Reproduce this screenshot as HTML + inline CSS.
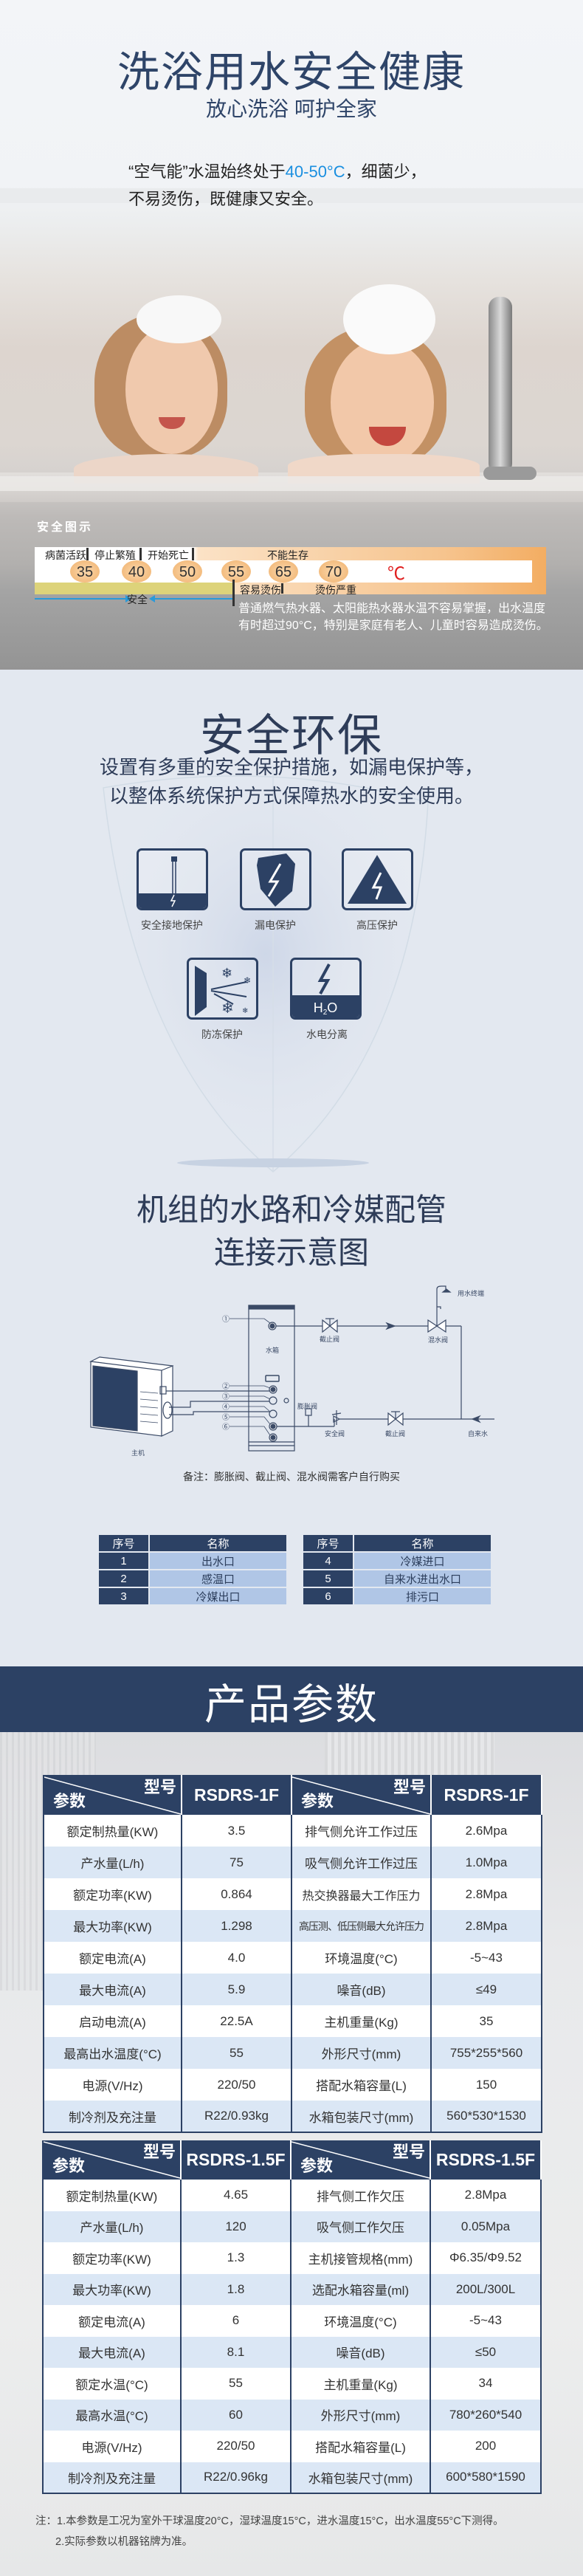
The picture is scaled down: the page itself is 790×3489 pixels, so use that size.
<!DOCTYPE html>
<html><head><meta charset="utf-8">
<style>
*{margin:0;padding:0;box-sizing:border-box}
body{width:790px;height:3489px;overflow:hidden;position:relative;font-family:"Liberation Sans","Noto Sans CJK SC",sans-serif;background:#e4e8ef}
.a{position:absolute}
.c{text-align:center;left:0;width:790px}
.num{position:absolute;top:759px;width:40px;height:30px;margin-left:-20px;border-radius:50%;background:radial-gradient(ellipse at center,#fbd9ae 0%,#f2b878 80%,rgba(242,184,120,0) 100%);font-size:20px;color:#333;text-align:center;line-height:32px}
.lbl{position:absolute;font-size:14px;color:#222}
.dv{position:absolute;width:3px;background:#333}
.ico{position:absolute;width:97px;height:84px;border:3px solid #2c4164;border-radius:7px;overflow:hidden;background:rgba(255,255,255,.15)}
.il{position:absolute;font-size:14px;color:#444;text-align:center;width:140px}
table{border-collapse:collapse;position:absolute;table-layout:fixed}
.nt td{height:24px;text-align:center;font-size:15px;border:2px solid #e3e8f0}
.nt .h{background:#2c4164;color:#fff}
.nt .l{background:#b0c6e6;color:#2c3e5c}
.pt td{text-align:center;font-size:17px;color:#333;border-left:2px solid #2c4164;border-right:2px solid #2c4164;white-space:nowrap;overflow:hidden}
.pt tr.hd td{background:#2c4164;color:#fff;font-weight:bold;font-size:23px;border-color:#fff #fff #fff #2c4164;padding:0}
.pt tr:nth-child(even) td{background:#fff}
.pt tr:nth-child(odd):not(.hd) td{background:#dbe7f5}
.pt{border-bottom:2px solid #2c4164}
.dg{position:relative;height:53px;width:100%}
.dg svg{position:absolute;left:0;top:0}
.dg .t1{position:absolute;right:6px;top:3px;font-size:22px;line-height:26px}
.dg .t2{position:absolute;left:12px;top:22px;font-size:22px;line-height:26px}
</style></head><body>

<!-- SECTION 1 -->
<div class="a" style="left:0;top:0;width:790px;height:907px;background:linear-gradient(#f3f5f8 0,#f1f3f6 250px,#eceeef 300px,#e6e2de 380px,#ddd5cf 470px,#dcd6d1 600px,#d6d2cf 640px,#bdbab8 700px,#b2b0ae 763px,#a4a4a4 800px,#949494 907px)"></div>
<div class="a" style="left:0;top:255px;width:790px;height:20px;background:#e9ebed"></div>
<div class="a" style="left:0;top:640px;width:790px;height:40px;background:linear-gradient(#e2dfdc,#cfcbc8)"></div>
<!-- kid 1 -->
<div class="a" style="left:128px;top:425px;width:180px;height:195px;border-radius:48% 48% 40% 40%;background:#b88457;opacity:.9"></div>
<div class="a" style="left:170px;top:440px;width:125px;height:175px;border-radius:50%;background:#f0c9ad"></div>
<div class="a" style="left:185px;top:400px;width:115px;height:65px;border-radius:50%;background:#f8f8f8"></div>
<div class="a" style="left:215px;top:565px;width:36px;height:16px;border-radius:0 0 18px 18px;background:#c4554c"></div>
<div class="a" style="left:100px;top:615px;width:250px;height:40px;border-radius:50% 50% 0 0;background:#ecd6c8"></div>
<!-- kid 2 -->
<div class="a" style="left:413px;top:442px;width:192px;height:190px;border-radius:48% 48% 40% 40%;background:#c08a58;opacity:.9"></div>
<div class="a" style="left:448px;top:460px;width:140px;height:170px;border-radius:50%;background:#f2c8a9"></div>
<div class="a" style="left:465px;top:385px;width:125px;height:95px;border-radius:50%;background:#fafafa"></div>
<div class="a" style="left:500px;top:578px;width:50px;height:26px;border-radius:0 0 25px 25px;background:#c4483f"></div>
<div class="a" style="left:390px;top:615px;width:260px;height:40px;border-radius:40% 40% 0 0;background:#f0d8c8"></div>
<div class="a" style="left:0;top:645px;width:790px;height:20px;background:rgba(236,234,232,.85)"></div>
<!-- faucet -->
<div class="a" style="left:662px;top:402px;width:32px;height:240px;border-radius:14px;background:linear-gradient(90deg,#8a8a8a,#d8d8d8,#7a7a7a)"></div>
<div class="a" style="left:655px;top:632px;width:72px;height:18px;border-radius:9px;background:#9a9a9a"></div>

<div class="a c" style="top:52px;font-size:57px;color:#2e4468;letter-spacing:2px">洗浴用水安全健康</div>
<div class="a c" style="top:126px;font-size:28px;color:#2e4468">放心洗浴 呵护全家</div>
<div class="a" style="left:174px;top:214px;font-size:22px;color:#222;line-height:37px;white-space:nowrap">“空气能”水温始终处于<span style="color:#1a8fe0">40-50°C</span>，细菌少，<br>不易烫伤，既健康又安全。</div>

<!-- safety chart -->
<div class="a" style="left:50px;top:700px;font-size:16px;font-weight:bold;color:#fff;letter-spacing:3px">安全图示</div>
<div class="a" style="left:47px;top:741px;width:693px;height:64px;background:linear-gradient(90deg,#fff 0,#fff 31%,#fbe2c6 32%,#f6c48e 80%,#f3ad62 100%)"></div>
<div class="a" style="left:47px;top:759px;width:674px;height:30px;background:#fff"></div>
<div class="a" style="left:47px;top:789px;width:268px;height:16px;background:#ddd37a"></div>
<div class="lbl" style="left:61px;top:742px">病菌活跃</div>
<div class="dv" style="left:117px;top:742px;height:17px"></div>
<div class="lbl" style="left:128px;top:742px">停止繁殖</div>
<div class="dv" style="left:189px;top:742px;height:17px"></div>
<div class="lbl" style="left:200px;top:742px">开始死亡</div>
<div class="dv" style="left:260px;top:742px;height:17px"></div>
<div class="lbl" style="left:362px;top:742px">不能生存</div>
<div class="num" style="left:115px">35</div>
<div class="num" style="left:185px">40</div>
<div class="num" style="left:254px">50</div>
<div class="num" style="left:320px">55</div>
<div class="num" style="left:384px">65</div>
<div class="num" style="left:452px">70</div>
<div class="a" style="left:525px;top:757px;font-size:24px;color:#e02020">℃</div>
<div class="lbl" style="left:325px;top:789px">容易烫伤</div>
<div class="dv" style="left:381px;top:790px;height:14px"></div>
<div class="lbl" style="left:427px;top:789px">烫伤严重</div>
<div class="dv" style="left:315px;top:785px;height:36px"></div>
<div class="a" style="left:47px;top:810px;width:130px;height:2px;background:#2a9ad8"></div>
<div class="a" style="left:170px;top:806px;width:0;height:0;border:5px solid transparent;border-left:8px solid #2a9ad8"></div>
<div class="a" style="left:205px;top:810px;width:110px;height:2px;background:#2a9ad8"></div>
<div class="a" style="left:197px;top:806px;width:0;height:0;border:5px solid transparent;border-right:8px solid #2a9ad8"></div>
<div class="lbl" style="left:172px;top:802px">安全</div>
<div class="a" style="left:323px;top:813px;font-size:16px;color:#fff;line-height:23px;white-space:nowrap">普通燃气热水器、太阳能热水器水温不容易掌握，出水温度<br>有时超过90°C，特别是家庭有老人、儿童时容易造成烫伤。</div>

<!-- SECTION 2 -->
<div class="a" style="left:0;top:907px;width:790px;height:1350px;background:#e3e8f0"></div>
<svg class="a" style="left:0;top:907px" width="790" height="700">
<defs><radialGradient id="g1" cx="50%" cy="45%" r="55%"><stop offset="0" stop-color="#c9d3e6" stop-opacity=".8"/><stop offset="1" stop-color="#e3e8f0" stop-opacity="0"/></radialGradient></defs>
<path d="M140,160 Q370,120 580,180 Q560,520 370,680 Q180,520 140,160Z" fill="url(#g1)" stroke="#d2dce6" stroke-width="1.5"/>
<line x1="370" y1="130" x2="370" y2="680" stroke="#d6dee8" stroke-width="1.5"/>
<ellipse cx="370" cy="668" rx="130" ry="6" fill="#c7d2e2"/>
</svg>
<div class="a c" style="top:948px;font-size:60px;color:#2e3c58;letter-spacing:2px">安全环保</div>
<div class="a c" style="top:1020px;font-size:26px;color:#2e3c58;line-height:39px">设置有多重的安全保护措施，如漏电保护等，<br>以整体系统保护方式保障热水的安全使用。</div>

<div class="ico" style="left:185px;top:1149px">
<svg width="91" height="78"><rect x="44" y="8" width="8" height="7" fill="#2c4164"/><line x1="46" y1="15" x2="46" y2="58" stroke="#2c4164" stroke-width="1.5"/><line x1="50" y1="15" x2="50" y2="58" stroke="#2c4164" stroke-width="1.5"/><rect x="0" y="58" width="91" height="20" fill="#2c4164"/><path d="M48,60 l-4,8 h5 l-4,8" stroke="#fff" fill="none" stroke-width="1.5"/></svg></div>
<div class="ico" style="left:325px;top:1149px">
<svg width="91" height="78"><path d="M22,10 L60,4 L72,18 L68,55 L45,76 L25,52 L20,20Z" fill="#2c4164"/><path d="M52,18 L38,42 L48,42 L36,62" stroke="#fff" stroke-width="3" fill="none"/></svg></div>
<div class="ico" style="left:463px;top:1149px">
<svg width="91" height="78"><path d="M45,6 L85,72 L5,72Z" fill="#2c4164"/><path d="M50,30 L40,50 L50,50 L44,66" stroke="#fff" stroke-width="3" fill="none"/></svg></div>
<div class="il" style="left:163px;top:1243px">安全接地保护</div>
<div class="il" style="left:303px;top:1243px">漏电保护</div>
<div class="il" style="left:441px;top:1243px">高压保护</div>
<div class="ico" style="left:253px;top:1297px">
<svg width="91" height="78"><path d="M8,8 L24,18 L24,64 L8,76Z" fill="#2c4164"/><g stroke="#2c4164" stroke-width="2"><line x1="30" y1="40" x2="78" y2="30"/><line x1="30" y1="42" x2="78" y2="50"/><line x1="34" y1="46" x2="60" y2="60"/></g><text x="44" y="24" font-size="18" fill="#2c4164">❄</text><text x="44" y="72" font-size="20" fill="#2c4164">❄</text><text x="74" y="32" font-size="12" fill="#2c4164">❄</text><text x="72" y="72" font-size="10" fill="#2c4164">❄</text></svg></div>
<div class="ico" style="left:393px;top:1297px">
<svg width="91" height="78"><path d="M50,6 L38,28 L48,28 L38,46" stroke="#2c4164" stroke-width="4" fill="none"/><rect x="0" y="48" width="91" height="30" fill="#2c4164"/><text x="45" y="71" font-size="18" fill="#fff" text-anchor="middle" font-family="Liberation Sans">H<tspan font-size="10" dy="3">2</tspan><tspan dy="-3">O</tspan></text></svg></div>
<div class="il" style="left:231px;top:1391px">防冻保护</div>
<div class="il" style="left:373px;top:1391px">水电分离</div>

<!-- SECTION 3 -->
<div class="a c" style="top:1610px;font-size:42px;color:#2e3c58;line-height:58px">机组的水路和冷媒配管<br>连接示意图</div>
<svg class="a" style="left:0;top:1740px" width="790" height="250" fill="none" stroke="#3b4a66" stroke-width="1.2" font-family="Liberation Sans,Noto Sans CJK SC,sans-serif">
<rect x="337" y="28" width="62" height="197"/><rect x="337" y="28" width="62" height="5" fill="#3b4a66"/>
<line x1="337" y1="213" x2="399" y2="213"/><line x1="337" y1="218" x2="399" y2="218"/>
<rect x="360" y="123" width="18" height="8" rx="1" stroke-width="1.5"/>
<g fill="#3b4a66"><circle cx="369" cy="56" r="5" fill="#fff"/><circle cx="369" cy="56" r="3"/><circle cx="370" cy="142" r="5" fill="#fff"/><circle cx="370" cy="142" r="3"/><circle cx="370" cy="192" r="5" fill="#fff"/><circle cx="370" cy="192" r="3"/><circle cx="370" cy="207" r="5" fill="#fff"/><circle cx="370" cy="207" r="3"/></g>
<circle cx="370" cy="157" r="5"/><circle cx="370" cy="175" r="5"/><circle cx="388" cy="157" r="3"/>
<g font-size="10" fill="#3b4a66" stroke="none"><text x="301" y="50">①</text><text x="301" y="141">②</text><text x="301" y="155">③</text><text x="301" y="169">④</text><text x="301" y="183">⑤</text><text x="301" y="196">⑥</text></g>
<path d="M311,46 H358 L366,52 M311,137 H358 L366,140 M311,151 H358 L366,155 M311,165 H358 L366,172 M311,179 H358 L366,189 M311,192 H358 L366,204" stroke-width=".8"/>
<line x1="374" y1="56" x2="625" y2="56"/>
<path d="M437,48 L457,64 L457,48 L437,64Z" fill="#fff"/><line x1="447" y1="56" x2="447" y2="46"/><line x1="441" y1="46" x2="453" y2="46"/>
<path d="M524,52 L535,56 L524,60 L527,56Z" fill="#3b4a66"/>
<path d="M580,48 L604,64 L604,48 L580,64Z" fill="#fff"/><line x1="592" y1="56" x2="592" y2="6"/><path d="M592,6 Q592,2 598,2 H604 V8"/><path d="M600,10 L610,10 L605,6Z" fill="#3b4a66"/><path d="M592,30 h5 v3"/>
<line x1="625" y1="56" x2="625" y2="182"/>
<line x1="670" y1="182" x2="460" y2="182"/>
<path d="M650,178 L640,182 L650,186 L647,182Z" fill="#3b4a66"/>
<path d="M526,174 L546,190 L546,174 L526,190Z" fill="#fff"/><line x1="536" y1="182" x2="536" y2="172"/><line x1="530" y1="172" x2="542" y2="172"/>
<path d="M452,178 L460,182 L452,186Z M456,170 L456,190 M450,176 L462,174"/>
<line x1="375" y1="192" x2="453" y2="192"/><line x1="453" y1="192" x2="453" y2="182"/>
<rect x="414" y="168" width="8" height="9"/><line x1="418" y1="177" x2="418" y2="192"/>
<path d="M123,104 L135,98 L234,110 L226,118 Z" fill="#fff"/>
<path d="M123,104 L219,116 L219,205 L123,193Z" fill="#fff"/><path d="M219,116 L234,110 L234,198 L219,205Z" fill="#fff"/>
<path d="M126,110 L186,117 L186,198 L126,191Z" fill="#2c4164"/>
<g stroke-width=".8"><line x1="190" y1="145" x2="214" y2="147"/><line x1="190" y1="155" x2="214" y2="157"/><line x1="190" y1="165" x2="214" y2="167"/><line x1="190" y1="175" x2="214" y2="177"/><line x1="190" y1="185" x2="214" y2="187"/></g>
<ellipse cx="227" cy="170" rx="6" ry="11"/>
<rect x="217" y="138" width="8" height="10"/>
<path d="M225,144 H365 M229,166 H258 V158 H365 M229,176 H262 V172 H365"/>
<g font-size="9" fill="#3b4a66" stroke="none"><text x="620" y="15">用水终端</text><text x="433" y="77">截止阀</text><text x="580" y="78">混水阀</text><text x="360" y="92">水箱</text><text x="403" y="168">膨胀阀</text><text x="440" y="205">安全阀</text><text x="522" y="205">截止阀</text><text x="634" y="205">自来水</text><text x="178" y="231">主机</text></g>
</svg>
<div class="a c" style="top:1990px;font-size:14px;color:#333">备注：膨胀阀、截止阀、混水阀需客户自行购买</div>

<table class="nt" style="left:132px;top:2077px;width:258px">
<colgroup><col style="width:69px"><col></colgroup>
<tr><td class="h">序号</td><td class="h">名称</td></tr>
<tr><td class="h">1</td><td class="l">出水口</td></tr>
<tr><td class="h">2</td><td class="l">感温口</td></tr>
<tr><td class="h">3</td><td class="l">冷媒出口</td></tr>
</table>
<table class="nt" style="left:409px;top:2077px;width:258px">
<colgroup><col style="width:69px"><col></colgroup>
<tr><td class="h">序号</td><td class="h">名称</td></tr>
<tr><td class="h">4</td><td class="l">冷媒进口</td></tr>
<tr><td class="h">5</td><td class="l">自来水进出水口</td></tr>
<tr><td class="h">6</td><td class="l">排污口</td></tr>
</table>

<!-- SECTION 4 -->
<div class="a" style="left:0;top:2346px;width:790px;height:1143px;background:linear-gradient(#dcdde0,#e8e9eb 300px,#eceded 800px,#e6e7e8)"></div>
<div class="a" style="left:0;top:2346px;width:130px;height:350px;background:repeating-linear-gradient(90deg,#d4d5d8 0,#d4d5d8 3px,#e3e4e6 3px,#e3e4e6 8px);opacity:.7"></div>
<div class="a" style="left:440px;top:2346px;width:230px;height:80px;background:repeating-linear-gradient(90deg,#d8d9db 0,#d8d9db 4px,#e6e7e9 4px,#e6e7e9 9px)"></div>
<div class="a" style="left:0;top:2257px;width:790px;height:89px;background:#2c4164"></div>
<div class="a c" style="top:2263px;font-size:57px;color:#fff;letter-spacing:2px">产品参数</div>

<table class="pt" style="left:58px;top:2404px;width:675px">
<colgroup><col style="width:187px"><col style="width:149px"><col style="width:189px"><col style="width:150px"></colgroup>
<tr class="hd" style="height:54px"><td><div class="dg"><svg width="185" height="54"><line x1="0" y1="2" x2="185" y2="52" stroke="#fff" stroke-width="1.5"/></svg><span class="t1">型号</span><span class="t2">参数</span></div></td><td>RSDRS-1F</td><td><div class="dg"><svg width="187" height="54"><line x1="0" y1="2" x2="187" y2="52" stroke="#fff" stroke-width="1.5"/></svg><span class="t1">型号</span><span class="t2">参数</span></div></td><td>RSDRS-1F</td></tr>
<tr style="height:43px"><td>额定制热量(KW)</td><td>3.5</td><td>排气侧允许工作过压</td><td>2.6Mpa</td></tr>
<tr style="height:43px"><td>产水量(L/h)</td><td>75</td><td>吸气侧允许工作过压</td><td>1.0Mpa</td></tr>
<tr style="height:43px"><td>额定功率(KW)</td><td>0.864</td><td style="font-size:16px">热交换器最大工作压力</td><td>2.8Mpa</td></tr>
<tr style="height:43px"><td>最大功率(KW)</td><td>1.298</td><td style="font-size:14px;letter-spacing:-1px">高压测、低压侧最大允许压力</td><td>2.8Mpa</td></tr>
<tr style="height:43px"><td>额定电流(A)</td><td>4.0</td><td>环境温度(°C)</td><td>-5~43</td></tr>
<tr style="height:43px"><td>最大电流(A)</td><td>5.9</td><td>噪音(dB)</td><td>≤49</td></tr>
<tr style="height:43px"><td>启动电流(A)</td><td>22.5A</td><td>主机重量(Kg)</td><td>35</td></tr>
<tr style="height:43px"><td>最高出水温度(°C)</td><td>55</td><td>外形尺寸(mm)</td><td>755*255*560</td></tr>
<tr style="height:43px"><td>电源(V/Hz)</td><td>220/50</td><td>搭配水箱容量(L)</td><td>150</td></tr>
<tr style="height:43px"><td>制冷剂及充注量</td><td>R22/0.93kg</td><td>水箱包装尺寸(mm)</td><td>560*530*1530</td></tr>
</table>

<table class="pt" style="left:57px;top:2899px;width:675px">
<colgroup><col style="width:187px"><col style="width:149px"><col style="width:189px"><col style="width:150px"></colgroup>
<tr class="hd" style="height:53px"><td><div class="dg"><svg width="185" height="53"><line x1="0" y1="2" x2="185" y2="51" stroke="#fff" stroke-width="1.5"/></svg><span class="t1">型号</span><span class="t2">参数</span></div></td><td>RSDRS-1.5F</td><td><div class="dg"><svg width="187" height="53"><line x1="0" y1="2" x2="187" y2="51" stroke="#fff" stroke-width="1.5"/></svg><span class="t1">型号</span><span class="t2">参数</span></div></td><td>RSDRS-1.5F</td></tr>
<tr style="height:42.5px"><td>额定制热量(KW)</td><td>4.65</td><td>排气侧工作欠压</td><td>2.8Mpa</td></tr>
<tr style="height:42.5px"><td>产水量(L/h)</td><td>120</td><td>吸气侧工作欠压</td><td>0.05Mpa</td></tr>
<tr style="height:42.5px"><td>额定功率(KW)</td><td>1.3</td><td>主机接管规格(mm)</td><td>Φ6.35/Φ9.52</td></tr>
<tr style="height:42.5px"><td>最大功率(KW)</td><td>1.8</td><td>选配水箱容量(ml)</td><td>200L/300L</td></tr>
<tr style="height:42.5px"><td>额定电流(A)</td><td>6</td><td>环境温度(°C)</td><td>-5~43</td></tr>
<tr style="height:42.5px"><td>最大电流(A)</td><td>8.1</td><td>噪音(dB)</td><td>≤50</td></tr>
<tr style="height:42.5px"><td>额定水温(°C)</td><td>55</td><td>主机重量(Kg)</td><td>34</td></tr>
<tr style="height:42.5px"><td>最高水温(°C)</td><td>60</td><td>外形尺寸(mm)</td><td>780*260*540</td></tr>
<tr style="height:42.5px"><td>电源(V/Hz)</td><td>220/50</td><td>搭配水箱容量(L)</td><td>200</td></tr>
<tr style="height:42.5px"><td>制冷剂及充注量</td><td>R22/0.96kg</td><td>水箱包装尺寸(mm)</td><td>600*580*1590</td></tr>
</table>

<div class="a" style="left:48px;top:3401px;font-size:14.5px;color:#444;line-height:28px;white-space:nowrap">注：1.本参数是工况为室外干球温度20°C，湿球温度15°C，进水温度15°C，出水温度55°C下测得。<br><span style="padding-left:27px">2.实际参数以机器铭牌为准。</span></div>
</body></html>
